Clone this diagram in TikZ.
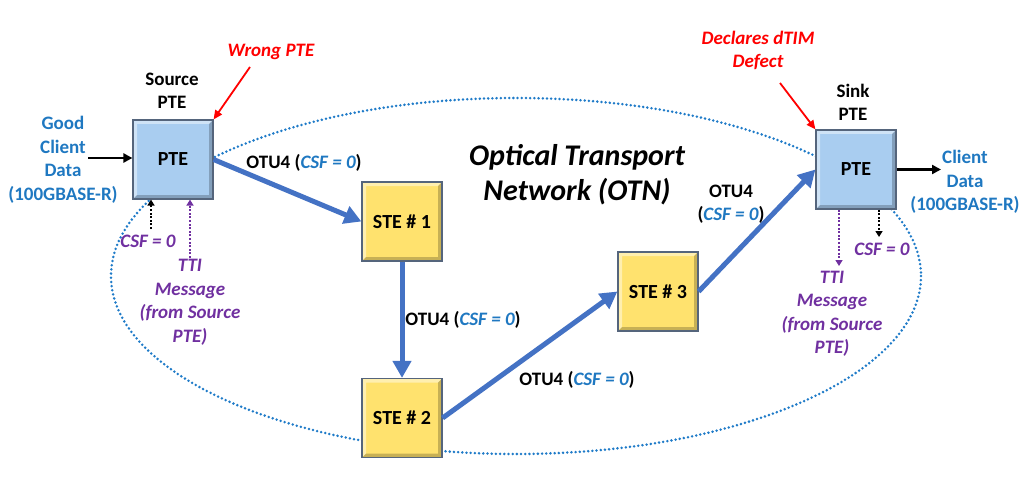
\documentclass[tikz,border=0pt]{standalone}
\usepackage{fontspec}
\setmainfont{Carlito}
\usetikzlibrary{arrows.meta}
\definecolor{ptefill}{HTML}{A9CDF0}
\definecolor{stefill}{HTML}{FFE26E}
\definecolor{boxedge}{HTML}{55657C}
\definecolor{flowblue}{HTML}{4472C4}
\definecolor{lblblue}{HTML}{1F78C1}
\definecolor{lblpurple}{HTML}{7030A0}
\definecolor{ovalblue}{HTML}{1F7BC8}
\tikzset{
  txt/.style={font=\bfseries\fontsize{19}{23.5}\selectfont, align=center, inner sep=0pt},
  bevelbox/.style={draw=boxedge, line width=1.2pt, minimum width=80pt, minimum height=79pt, inner sep=0pt,
    font=\bfseries\fontsize{20}{24}\selectfont,
    path picture={
      \fill[white,opacity=.45] (path picture bounding box.north west) -- (path picture bounding box.north east)
        -- ([xshift=-4pt,yshift=-4pt]path picture bounding box.north east) -- ([xshift=4pt,yshift=-4pt]path picture bounding box.north west)
        -- ([xshift=4pt,yshift=4pt]path picture bounding box.south west) -- (path picture bounding box.south west) -- cycle;
      \fill[black,opacity=.22] (path picture bounding box.south west) -- (path picture bounding box.south east)
        -- (path picture bounding box.north east) -- ([xshift=-4pt,yshift=-4pt]path picture bounding box.north east)
        -- ([xshift=-4pt,yshift=4pt]path picture bounding box.south east) -- ([xshift=4pt,yshift=4pt]path picture bounding box.south west) -- cycle;
    }},
  ptebox/.style={bevelbox, fill=ptefill},
  stebox/.style={bevelbox, fill=stefill},
  flow/.style={draw=flowblue, line width=5pt, -{Triangle[length=17pt,width=18pt]}},
  clientarrow/.style={draw=black, line width=2.5pt, -{Triangle[length=9pt,width=9pt]}},
  redarrow/.style={draw=red, line width=1.8pt, -{Triangle[length=9pt,width=8pt]}},
  dotarrow/.style={line width=2.4pt, dash pattern=on 2pt off 1.6pt, -{Triangle[length=6pt,width=7pt]}},
  redlbl/.style={txt, text=red, font=\bfseries\itshape\fontsize{19}{23.5}\selectfont},
  bluelbl/.style={txt, text=lblblue},
  purplelbl/.style={txt, text=lblpurple, font=\bfseries\itshape\fontsize{19}{23.5}\selectfont},
}
\newcommand{\csfz}{\textcolor{lblblue}{\itshape CSF = 0}}
\begin{document}
\begin{tikzpicture}[x=1pt,y=-1pt]
\useasboundingbox (0,0) rectangle (1024,489);
% oval
\draw[ovalblue, line width=2.8pt, line cap=round, dash pattern=on 0pt off 4.2pt] (516,276) ellipse [x radius=405, y radius=178];

% boxes
\node[ptebox] (src) at (173,159.5) {PTE};
\node[stebox] (ste1) at (402,221.5) {STE \# 1};
\node[stebox] (ste2) at (402,418) {STE \# 2};
\node[stebox] (ste3) at (658,291.5) {STE \# 3};
\node[ptebox] (sink) at (856,169.5) {PTE};

% flows
\draw[flow] (src.east) -- (ste1.west);
\draw[flow] (ste1.south) -- (ste2.north);
\draw[flow] (ste2.east) -- (ste3.west);
\draw[flow] (ste3.east) -- (sink.west);

% labels
\node[txt] (srclbl) at (172,91) {Source\\PTE};
\node[txt] (sinklbl) at (853,102.5) {Sink\\PTE};
\node[redlbl] (wrong) at (271,52) {Wrong PTE};
\node[redlbl] (dtim) at (758,50.5) {Declares dTIM\\Defect};
\coordinate (wrongtail) at (250,67);
\coordinate (dtimtail) at (780,83);
\draw[redarrow] (wrongtail) -- (src.north east);
\draw[redarrow] (dtimtail) -- (sink.north west);

\node[bluelbl] (goodin) at (63,160) {Good\\Client\\Data\\(100GBASE-R)};
\node[bluelbl] (clientout) at (965,182) {Client\\Data\\(100GBASE-R)};
\coordinate (intail) at (88,158);
\coordinate (outhead) at (941,169.5);
\draw[clientarrow] (intail) -- (intail -| src.west);
\draw[clientarrow] (sink.east) -- (outhead);

\node[txt] (otu1) at (304,163) {OTU4 (\csfz)};
\node[txt] (otu2) at (463,320) {OTU4 (\csfz)};
\node[txt] (otu3) at (577,380) {OTU4 (\csfz)};
\node[txt] (otu4) at (731,204) {OTU4\\(\csfz)};

\node[txt, font=\bfseries\itshape\fontsize{30}{35}\selectfont] (otn) at (577,175) {Optical Transport\\Network (OTN)};

% source side dotted
\node[purplelbl] (srccsf) at (148,241) {CSF = 0};
\node[purplelbl] (srctti) at (190,302.5) {TTI\\Message\\(from Source\\PTE)};
\coordinate (srccsftail) at (151,229);
\coordinate (srcttitail) at (190,258);
\draw[dotarrow, black] (srccsftail) -- (srccsftail |- src.south);
\draw[dotarrow, lblpurple] (srcttitail) -- (srcttitail |- src.south);

% sink side dotted
\node[purplelbl] (sinkcsf) at (882,249) {CSF = 0};
\node[purplelbl] (sinktti) at (832,314) {TTI\\Message\\(from Source\\PTE)};
\coordinate (sinkcsfhead) at (879,237);
\coordinate (sinkttihead) at (839,266);
\draw[dotarrow, black] (sinkcsfhead |- sink.south) -- (sinkcsfhead);
\draw[dotarrow, lblpurple] (sinkttihead |- sink.south) -- (sinkttihead);
\end{tikzpicture}
\end{document}
